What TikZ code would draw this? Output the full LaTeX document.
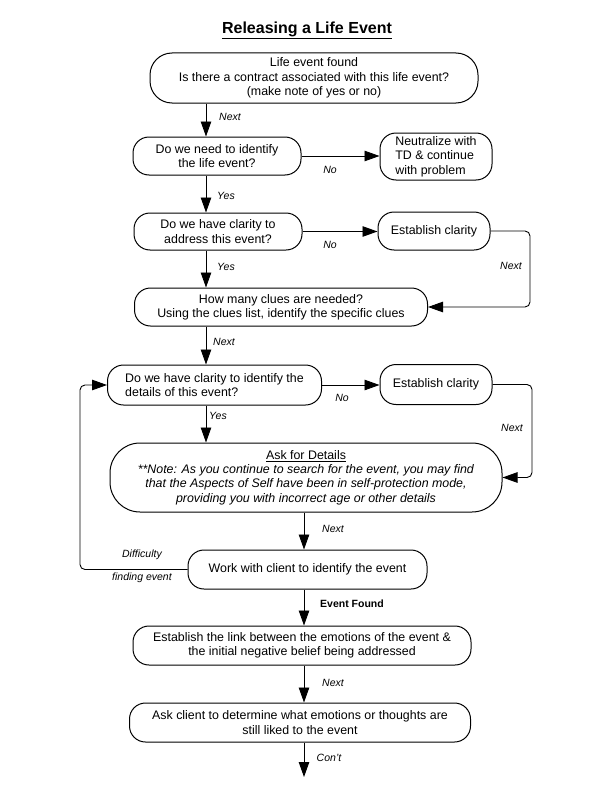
\documentclass[tikz,border=0pt]{standalone}
\usepackage{fontspec}
\setmainfont{Liberation Sans}
\usetikzlibrary{arrows.meta}
\begin{document}
\begin{tikzpicture}[x=1pt,y=-1pt,every node/.style={inner sep=0pt}]
\tikzstyle{arrow}=[draw,line width=0.9pt,-{Triangle[length=15pt,width=10.5pt]}]
\tikzstyle{box}=[draw,line width=1pt,rounded corners=16pt,align=center,font=\fontsize{12.4}{14.3}\selectfont]
\tikzstyle{lbl}=[font=\fontsize{10.5}{12}\selectfont\itshape]
\useasboundingbox (0,0) rectangle (612,792);

\node(title) at (307,30){\fontsize{16}{19}\selectfont\bfseries\underline{Releasing a Life Event}};

\node[box,rounded corners=22pt,minimum width=328,minimum height=50](b1) at (314,78){Life event found\\Is there a contract associated with this life event?\\(make note of yes or no)};
\node[box,minimum width=168,minimum height=38](b2) at (217,156){Do we need to identify\\the life event?};
\node[box,align=left,minimum width=112,minimum height=47](b3) at (436,156.5){Neutralize with\\TD \& continue\\with problem};
\node[box,minimum width=168,minimum height=37](b4) at (218,231.5){Do we have clarity to\\address this event?};
\node[box,minimum width=112,minimum height=38](b5) at (434,231){Establish clarity};
\node[box,minimum width=293,minimum height=38](b6) at (281,307){How many clues are needed?\\Using the clues list, identify the specific clues};
\node[box,align=left,minimum width=214,minimum height=40](b7) at (214.5,385){Do we have clarity to identify the\\details of this event?};
\node[box,minimum width=112,minimum height=40](b8) at (436,384.5){Establish clarity};
\node[box,rounded corners=30pt,minimum width=392,minimum height=69](b9) at (306,477.5){\underline{Ask for Details}\\\textit{**Note: As you continue to search for the event, you may find}\\\textit{that the Aspects of Self have been in self-protection mode,}\\\textit{providing you with incorrect age or other details}};
\node[box,minimum width=239,minimum height=39](b10) at (307.5,569.5){Work with client to identify the event};
\node[box,minimum width=338,minimum height=39](b11) at (302,645.5){Establish the link between the emotions of the event \&\\the initial negative belief being addressed};
\node[box,minimum width=341,minimum height=39](b12) at (300,722.5){Ask client to determine what emotions or thoughts are\\still liked to the event};

\coordinate(ca) at (206,0);
\coordinate(cb) at (304,0);
\coordinate(ra) at (530,0);
\coordinate(rb) at (532,0);
\coordinate(la) at (80,0);
\coordinate(end) at (304,777);

\path[arrow](b1.south -| ca)--(b2.north -| ca);
\path[arrow](b2.east)--(b2.east -| b3.west);
\path[arrow](b2.south -| ca)--(b4.north -| ca);
\path[arrow](b4.east)--(b4.east -| b5.west);
\path[arrow](b4.south -| ca)--(b6.north -| ca);
\path[arrow,rounded corners=5pt](b5.east)--(b5.east -| ra)--(b6.east -| ra)--(b6.east);
\path[arrow](b6.south -| ca)--(b7.north -| ca);
\path[arrow](b7.east)--(b7.east -| b8.west);
\path[arrow](b7.south -| ca)--(b9.north -| ca);
\path[arrow,rounded corners=5pt](b8.east)--(b8.east -| rb)--(b9.east -| rb)--(b9.east);
\path[arrow](b9.south -| cb)--(b10.north -| cb);
\path[arrow,rounded corners=5pt](b10.west)--(b10.west -| la)--(b7.west -| la)--(b7.west);
\path[arrow](b10.south -| cb)--(b11.north -| cb);
\path[arrow](b11.south -| cb)--(b12.north -| cb);
\path[arrow](b12.south -| cb)--(end);

\node[lbl](l1) at (230,117){Next};
\node[lbl](l2) at (330,170){No};
\node[lbl](l3) at (226,196){Yes};
\node[lbl](l4) at (330,245){No};
\node[lbl](l5) at (226,267){Yes};
\node[lbl](l6) at (511,266){Next};
\node[lbl](l7) at (224,342){Next};
\node[lbl](l8) at (342,398){No};
\node[lbl](l9) at (218,416){Yes};
\node[lbl](l10) at (512,428){Next};
\node[lbl](l11) at (333,529){Next};
\node[lbl](l12) at (142,555){Difficulty};
\node[lbl](l13) at (142,578){finding event};
\node[lbl,font=\fontsize{10.5}{12}\selectfont\bfseries](l14) at (352,604){Event Found};
\node[lbl](l15) at (333,683){Next};
\node[lbl](l16) at (329,758){Con't};
\end{tikzpicture}
\end{document}
